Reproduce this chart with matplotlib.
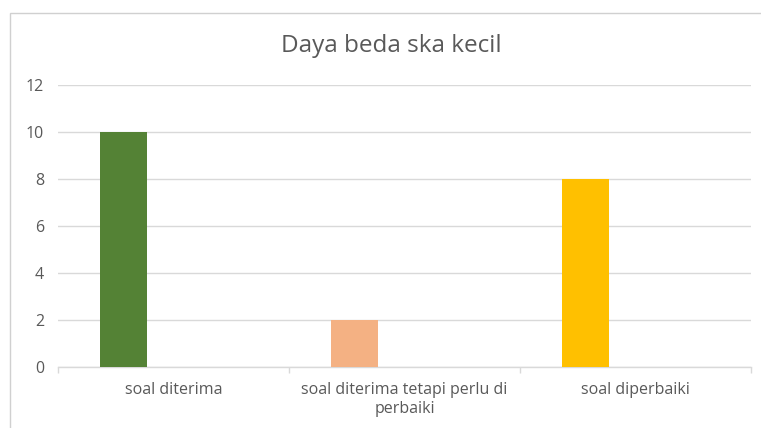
import matplotlib.pyplot as plt
from matplotlib.patches import Rectangle
import numpy as np

# data
categories = ["soal diterima", "soal diterima tetapi perlu di\nperbaiki", "soal diperbaiki"]
values = [10, 2, 8]
bar_colors = ["#548235", "#F4B183", "#FFC000"]
y_ticks = [0, 2, 4, 6, 8, 10, 12]
title = "Daya beda ska kecil"

plt.rcParams['font.family'] = ['Open Sans', 'DejaVu Sans']
text_color = "#595959"
grid_color = "#D9D9D9"

fig = plt.figure(figsize=(7.61, 4.28), dpi=100)
fig.patch.set_facecolor("white")

# chart area border (runs off the right and bottom of the image)
fig.patches.append(Rectangle((10 / 761, -0.1), 1.2, 1 - 13 / 428 + 0.1,
                             transform=fig.transFigure, fill=False,
                             edgecolor="#D0D0D0", linewidth=1.0))

ax = fig.add_axes([58 / 761, 1 - 367 / 428, (751 - 58) / 761, (367 - 85) / 428])

x = np.arange(len(categories))
ax.bar(x - 0.216, values, width=0.205, color=bar_colors, zorder=3)

ax.set_xlim(-0.5, len(categories) - 0.5)
ax.set_ylim(0, 12)
ax.set_yticks(y_ticks)
ax.set_yticklabels([str(v) for v in y_ticks], color=text_color, fontsize=11.5)
ax.set_xticks(x)
ax.set_xticklabels(categories, color=text_color, fontsize=11.5, linespacing=1.2)
ax.set_xticks(np.arange(len(categories) + 1) - 0.5, minor=True)

ax.tick_params(axis='both', which='major', length=0)
ax.tick_params(axis='y', pad=10)
ax.tick_params(axis='x', pad=11)
ax.tick_params(axis='x', which='minor', length=4, color=grid_color, width=1)

ax.grid(axis='y', color=grid_color, linewidth=1, zorder=0)
for side in ['top', 'right', 'left']:
    ax.spines[side].set_visible(False)
ax.spines['bottom'].set_color(grid_color)
ax.spines['bottom'].set_linewidth(1)

fig.text(391 / 761, 1 - 46 / 428, title, ha='center', va='center',
         fontsize=17.5, color=text_color)

fig.savefig("out.png", dpi=100)
